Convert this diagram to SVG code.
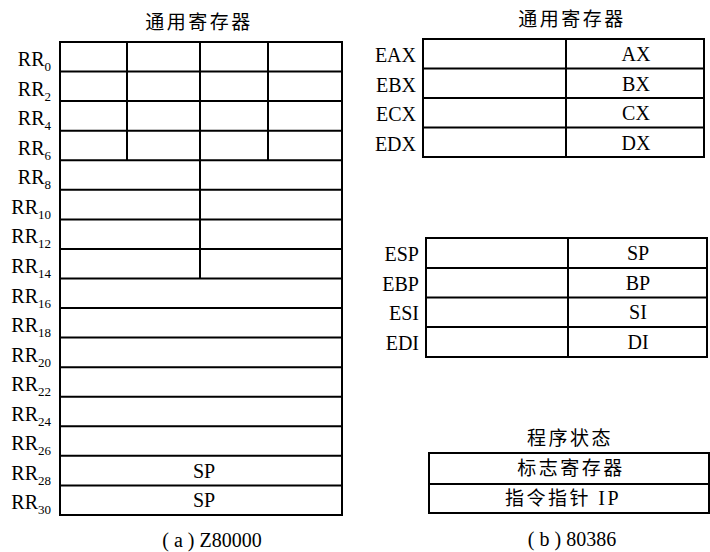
<svg xmlns="http://www.w3.org/2000/svg" width="710" height="552" viewBox="0 0 710 552">
<style>
.ln{stroke:#000;stroke-width:2;fill:none}
.t{font-family:"Liberation Serif","Times New Roman",serif;font-size:20px;fill:#000}
.c{text-anchor:middle}
.e{text-anchor:end}
.s{font-size:13px}
.cjk{font-family:"Liberation Serif","Noto Sans CJK SC",sans-serif;font-size:19px;fill:#000;text-anchor:middle;letter-spacing:2.5px}
</style>
<rect width="710" height="552" fill="#fff"/>
<g id="z80000">
<text class="cjk" x="199" y="29">通用寄存器</text>
<rect class="ln" x="60" y="42" width="282" height="473"/>
<path class="ln" d="M60 71.6H342M60 101.1H342M60 130.7H342M60 160.2H342M60 189.8H342M60 219.4H342M60 248.9H342M60 278.5H342M60 308H342M60 337.6H342M60 367.2H342M60 396.7H342M60 426.3H342M60 455.8H342M60 485.4H342"/>
<path class="ln" d="M127 42V160.2M268 42V160.2M200 42V278.5"/>
<g class="t e">
<text x="51" y="66">RR<tspan class="s" dy="5">0</tspan></text>
<text x="51" y="95.6">RR<tspan class="s" dy="5">2</tspan></text>
<text x="51" y="125.1">RR<tspan class="s" dy="5">4</tspan></text>
<text x="51" y="154.7">RR<tspan class="s" dy="5">6</tspan></text>
<text x="51" y="184.2">RR<tspan class="s" dy="5">8</tspan></text>
<text x="51" y="213.8">RR<tspan class="s" dy="5">10</tspan></text>
<text x="51" y="243.4">RR<tspan class="s" dy="5">12</tspan></text>
<text x="51" y="272.9">RR<tspan class="s" dy="5">14</tspan></text>
<text x="51" y="302.5">RR<tspan class="s" dy="5">16</tspan></text>
<text x="51" y="332">RR<tspan class="s" dy="5">18</tspan></text>
<text x="51" y="361.6">RR<tspan class="s" dy="5">20</tspan></text>
<text x="51" y="391.2">RR<tspan class="s" dy="5">22</tspan></text>
<text x="51" y="420.7">RR<tspan class="s" dy="5">24</tspan></text>
<text x="51" y="450.3">RR<tspan class="s" dy="5">26</tspan></text>
<text x="51" y="479.8">RR<tspan class="s" dy="5">28</tspan></text>
<text x="51" y="509.4">RR<tspan class="s" dy="5">30</tspan></text>
</g>
<text class="t c" x="204" y="477.5">SP</text>
<text class="t c" x="204" y="507">SP</text>
<text class="t c" x="212" y="547">( a ) Z80000</text>
</g>
<g id="gp386">
<text class="cjk" x="572" y="26">通用寄存器</text>
<rect class="ln" x="423" y="39" width="281" height="118"/>
<path class="ln" d="M423 68.5H704M423 98H704M423 127.5H704M566 39V157"/>
<g class="t e">
<text x="416" y="62">EAX</text>
<text x="416" y="91.5">EBX</text>
<text x="416" y="121">ECX</text>
<text x="416" y="150.5">EDX</text>
</g>
<g class="t c">
<text x="636" y="61">AX</text>
<text x="636" y="90.5">BX</text>
<text x="636" y="120">CX</text>
<text x="636" y="149.5">DX</text>
</g>
</g>
<g id="ptr386">
<rect class="ln" x="426" y="238" width="281" height="119"/>
<path class="ln" d="M426 268H707M426 297.5H707M426 327H707M568 238V357"/>
<g class="t e">
<text x="419" y="261">ESP</text>
<text x="419" y="290.5">EBP</text>
<text x="419" y="320">ESI</text>
<text x="419" y="349.5">EDI</text>
</g>
<g class="t c">
<text x="638" y="260">SP</text>
<text x="638" y="289.5">BP</text>
<text x="638" y="319">SI</text>
<text x="638" y="348.5">DI</text>
</g>
</g>
<g id="status386">
<text class="cjk" x="570" y="445">程序状态</text>
<rect class="ln" x="429" y="453" width="280" height="60"/>
<path class="ln" d="M429 484H709"/>
<text class="cjk" x="571" y="475">标志寄存器</text>
<text class="cjk" x="563" y="505">指令指针 <tspan font-family="Liberation Serif" font-size="20">IP</tspan></text>
<text class="t c" x="572" y="546">( b ) 80386</text>
</g>
</svg>
